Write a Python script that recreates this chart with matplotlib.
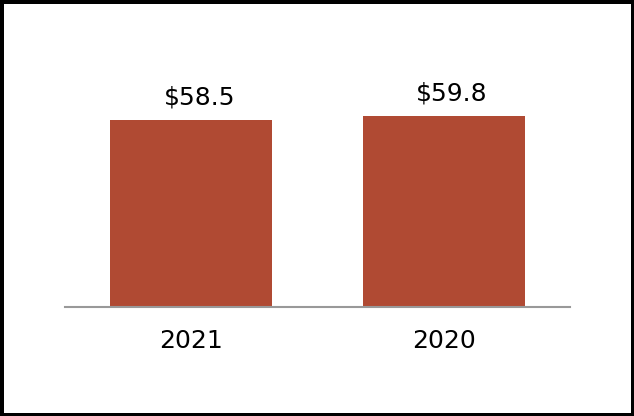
import matplotlib.pyplot as plt

years = ['2021', '2020']
values = [58.5, 59.8]
labels = ['$58.5', '$59.8']

fig = plt.figure(figsize=(6.34, 4.16), dpi=100)
fig.patch.set_edgecolor('black')
fig.patch.set_linewidth(5)

ax = fig.add_axes([0.1025, 0.262, 0.797, 0.615])
x = list(range(len(years)))
ax.bar(x, values, width=0.64, color='#B04A33')

for xi, v, lab in zip(x, values, labels):
    ax.annotate(lab, (xi, v), xytext=(8, 22), textcoords='offset pixels',
                ha='center', va='center', fontsize=18, color='black')

ax.set_xlim(-0.5, 1.5)
ax.set_ylim(0, 80)
ax.set_xticks(x)
ax.set_xticklabels(years, fontsize=18)
ax.tick_params(axis='x', length=0, pad=16)
ax.set_yticks([])
for side in ['top', 'right', 'left']:
    ax.spines[side].set_visible(False)
ax.spines['bottom'].set_color('#999999')
ax.spines['bottom'].set_linewidth(1.5)

fig.savefig('out.png', dpi=100, edgecolor=fig.get_edgecolor())
